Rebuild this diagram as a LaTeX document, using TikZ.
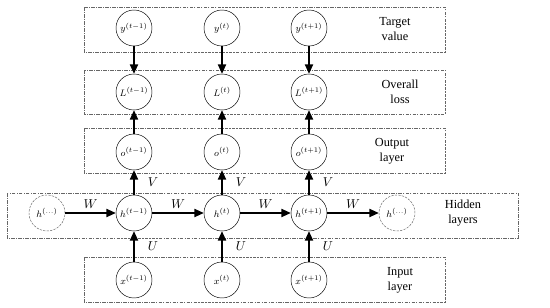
\documentclass[tikz,border=0pt]{standalone}
\usepackage{fontspec}
\setmainfont{Liberation Serif}
\usetikzlibrary{arrows.meta}
\begin{document}
\begin{tikzpicture}[x=0.03cm, y=-0.03cm,
  layer/.style={draw=gray!80!black, dash pattern=on 3pt off 1pt on 1pt off 1pt},
  unit/.style={draw, circle, minimum size=1.08cm, inner sep=0pt, font=\fontsize{8.5}{10}\selectfont},
  ghost/.style={unit, draw=gray!80!black, dash pattern=on 2pt off 1pt},
  flow/.style={line width=1.1pt, -{Triangle[length=8pt, width=7pt]}},
  wlabel/.style={font=\fontsize{10.5}{12}\selectfont},
  tag/.style={align=center, font=\fontsize{10.5}{12.5}\selectfont}
]
\useasboundingbox (0,0) rectangle (550,308);

% Layer boxes
\draw[layer] (84,7) rectangle (445,52);
\draw[layer] (84,70) rectangle (445,114);
\draw[layer] (84,128) rectangle (445,173);
\draw[layer] (7,193) rectangle (518,238);
\draw[layer] (84,257) rectangle (445,302);

% Target value
\node[unit] (y1) at (134,28) {$y^{(t-1)}$};
\node[unit] (y2) at (222,28) {$y^{(t)}$};
\node[unit] (y3) at (309,28) {$y^{(t+1)}$};
\node[tag] (tgt) at (395,29) {Target\\value};

% Overall loss
\node[unit] (L1) at (134,92) {$L^{(t-1)}$};
\node[unit] (L2) at (222,92) {$L^{(t)}$};
\node[unit] (L3) at (309,92) {$L^{(t+1)}$};
\node[tag] (loss) at (400,92) {Overall\\loss};

% Output layer
\node[unit] (o1) at (134,152) {$o^{(t-1)}$};
\node[unit] (o2) at (222,152) {$o^{(t)}$};
\node[unit] (o3) at (309,152) {$o^{(t+1)}$};
\node[tag] (out) at (392,151) {Output\\layer};

% Hidden layers
\node[ghost] (h0) at (47,213) {$h^{(\dots)}$};
\node[unit] (h1) at (134,213) {$h^{(t-1)}$};
\node[unit] (h2) at (222,213) {$h^{(t)}$};
\node[unit] (h3) at (309,213) {$h^{(t+1)}$};
\node[ghost] (h4) at (397,213) {$h^{(\dots)}$};
\node[tag] (hid) at (463,213) {Hidden\\layers};

% Input layer
\node[unit] (x1) at (134,280) {$x^{(t-1)}$};
\node[unit] (x2) at (222,280) {$x^{(t)}$};
\node[unit] (x3) at (309,280) {$x^{(t+1)}$};
\node[tag] (inp) at (400,280) {Input\\layer};

% Target to loss
\draw[flow] (y1) -- (L1);
\draw[flow] (y2) -- (L2);
\draw[flow] (y3) -- (L3);

% Output to loss
\draw[flow] (o1) -- (L1);
\draw[flow] (o2) -- (L2);
\draw[flow] (o3) -- (L3);

% Hidden to output (V)
\draw[flow] (h1) -- node[wlabel, right=8pt] {$V$} (o1);
\draw[flow] (h2) -- node[wlabel, right=8pt] {$V$} (o2);
\draw[flow] (h3) -- node[wlabel, right=8pt] {$V$} (o3);

% Recurrence (W)
\draw[flow] (h0) -- node[wlabel, above] {$W$} (h1);
\draw[flow] (h1) -- node[wlabel, above] {$W$} (h2);
\draw[flow] (h2) -- node[wlabel, above] {$W$} (h3);
\draw[flow] (h3) -- node[wlabel, above] {$W$} (h4);

% Input to hidden (U)
\draw[flow] (x1) -- node[wlabel, right=8pt] {$U$} (h1);
\draw[flow] (x2) -- node[wlabel, right=8pt] {$U$} (h2);
\draw[flow] (x3) -- node[wlabel, right=8pt] {$U$} (h3);
\end{tikzpicture}
\end{document}
